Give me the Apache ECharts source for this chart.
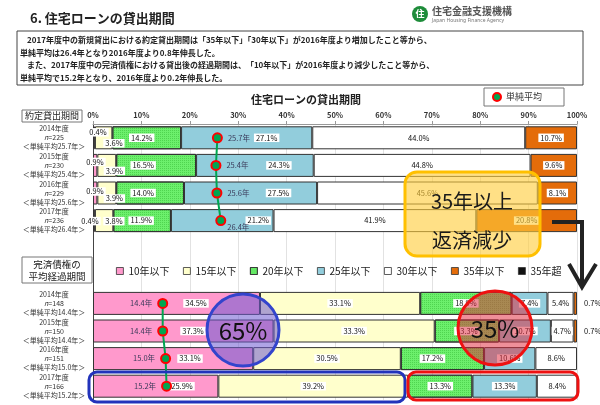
<!DOCTYPE html>
<html><head><meta charset="utf-8">
<script src="https://cdn.jsdelivr.net/npm/echarts@6/dist/echarts.min.js"></script>
<style>html,body{margin:0;padding:0;background:#fff}#c{width:600px;height:405px}</style>
</head><body><div id="c"></div>
<script>
// ---- data ----
const years = ['2014年度', '2015年度', '2016年度', '2017年度'];
const nTop = [225, 230, 229, 236];
const avgTop = [25.7, 25.4, 25.6, 26.4];
const nBottom = [148, 150, 151, 166];
const avgBottom = [14.4, 14.4, 15.0, 15.2];
const seriesNames = ['10年以下', '15年以下', '20年以下', '25年以下', '30年以下', '35年以下', '35年超'];
const xTicks = [0, 10, 20, 30, 40, 50, 60, 70, 80, 90, 100];
// 約定貸出期間 (top block)
const top10 = [0.4, 0.9, 0.9, 0.4];
const top15 = [3.6, 3.9, 3.9, 3.8];
const top20 = [14.2, 16.5, 14.0, 11.9];
const top25 = [27.1, 24.3, 27.5, 21.2];
const top30 = [44.0, 44.8, 45.6, 41.9];
const top35 = [10.7, 9.6, 8.1, 20.8];
const topOver = [0, 0, 0, 0];
// 完済債権の平均経過期間 (bottom block)
const bot10 = [34.5, 37.3, 33.1, 25.9];
const bot15 = [33.1, 33.3, 30.5, 39.2];
const bot20 = [18.9, 13.3, 17.2, 13.3];
const bot25 = [7.4, 10.7, 10.6, 13.3];
const bot30 = [5.4, 4.7, 8.6, 8.4];
const bot35 = [0.7, 0.7, 0, 0];
const botOver = [0, 0, 0, 0];

const FONT = 'Noto Sans CJK JP';
const colors = ['#FF99CC', '#FFFFCC', '#6CF06C', '#92CDDC', '#FFFFFF', '#E46C0A', '#111111'];
const topSets = [top10, top15, top20, top25, top30, top35, topOver];
const botSets = [bot10, bot15, bot20, bot25, bot30, bot35, botOver];
const GAP = 2;

const cats = [];
years.forEach((y, i) => cats.push(y + '\n{i|n}=' + nTop[i] + '\n＜単純平均' + avgTop[i].toFixed(1) + '年＞'));
for (let g = 0; g < GAP; g++) cats.push('');
years.forEach((y, i) => cats.push(y + '\n{i|n}=' + nBottom[i] + '\n＜単純平均' + avgBottom[i].toFixed(1) + '年＞'));

// label style tweaks (positions only, not data)
const pinkTopPos = [[5, 6], [2, 8], [2, 10], [-3, 12]];
const yellowTopPos = [[19, 17], [17, 17], [17, 17], [19, 12]];
const greenTopOff = [-5, -13, -7, -1];
const blueTopOff = [20, 24, 28, 36];
const pinkBotX = [103, 100, 97, 89];
const greenBotOff = [0, 0, -10, 0];

const baseLabel = {
  show: true, fontSize: 7.5, fontFamily: FONT, color: '#111', backgroundColor: '#fff',
  padding: [1, 2, 0, 2], formatter: p => Number(p.value).toFixed(1) + '%'
};

function itemLabel(s, block, i) {
  if (block === 'top') {
    if (s === 0) return { position: pinkTopPos[i], align: 'center', verticalAlign: 'middle' };
    if (s === 1) return { position: yellowTopPos[i], align: 'center', verticalAlign: 'middle' };
    if (s === 2) return { position: 'inside', offset: [greenTopOff[i], 0] };
    if (s === 3) return { position: 'inside', offset: [blueTopOff[i], 0] };
    return { position: 'inside' };
  } else {
    if (s === 0) return { position: [pinkBotX[i], '50%'], align: 'center', verticalAlign: 'middle' };
    if (s === 2) return { position: 'inside', offset: [greenBotOff[i], 0] };
    if (s === 5) return { position: 'right', distance: 5, backgroundColor: 'transparent' };
    return { position: 'inside' };
  }
}

const barSeries = seriesNames.map((name, s) => {
  const data = [];
  topSets[s].forEach((v, i) => data.push(v ? { value: v, label: itemLabel(s, 'top', i) } : '-'));
  for (let g = 0; g < GAP; g++) data.push('-');
  botSets[s].forEach((v, i) => data.push(v ? { value: v, label: itemLabel(s, 'bot', i) } : '-'));
  const it = { color: colors[s], borderColor: '#333', borderWidth: 1 };
  if (s === 2) it.decal = { symbol: 'rect', symbolSize: 1, dashArrayX: [1, 1], dashArrayY: [1, 1], color: 'rgba(30,160,30,0.35)' };
  return {
    name, type: 'bar', stack: 'total', barWidth: 23, data, itemStyle: it,
    label: baseLabel, emphasis: { disabled: true }, z: 2
  };
});

const avgLineTop = [];
avgTop.forEach((v, i) => avgLineTop.push(i === 3 ? { value: [v, i], label: { position: 'right', offset: [-4, 7] } } : [v, i]));
const avgLineBot = avgBottom.map((v, i) => [v, i + years.length + GAP]);

const markerStyle = {
  type: 'line', name: '単純平均', symbol: 'circle', symbolSize: 9, z: 5,
  itemStyle: { color: '#00A651', borderColor: '#FF0000', borderWidth: 2 },
  lineStyle: { color: '#00A651', width: 2 }, emphasis: { disabled: true }
};
const avgLabel = { show: true, fontSize: 7.5, fontFamily: FONT, color: '#3a3a5a', formatter: p => p.value[0].toFixed(1) + '年' };

const option = {
  animation: false,
  textStyle: { fontFamily: FONT },
  grid: { left: 93, right: 23, top: 124, bottom: 5, containLabel: false },
  xAxis: {
    type: 'value', position: 'top', min: 0, max: 100, interval: 10,
    axisLabel: { formatter: v => xTicks.includes(v) ? v + '%' : '', fontSize: 7.5, color: '#333', fontWeight: 'bold', margin: 5 },
    axisLine: { show: true, lineStyle: { color: '#999' } },
    axisTick: { show: true, length: 3, lineStyle: { color: '#999' } },
    splitLine: { show: true, lineStyle: { color: '#e2e2e2' } }
  },
  yAxis: {
    type: 'category', inverse: true, data: cats,
    axisLine: { show: true, lineStyle: { color: '#444', width: 1 } },
    axisTick: { show: false },
    axisLabel: { align: 'center', margin: 39, fontSize: 7, lineHeight: 9, color: '#333', fontFamily: FONT,
      rich: { i: { fontStyle: 'italic', fontSize: 7, lineHeight: 9, color: '#333' } } }
  },
  legend: [
    { data: seriesNames, left: 111, top: 261, itemWidth: 7, itemHeight: 7, itemGap: 13.5, icon: 'rect',
      selectedMode: false, textStyle: { fontSize: 10, color: '#222', fontFamily: FONT, padding: [1, 0, 0, 0] },
      itemStyle: { borderColor: '#333', borderWidth: 0.8 } },
    { data: ['単純平均'], left: 484, top: 88, icon: 'circle', itemWidth: 8, itemHeight: 8,
      padding: [4, 22, 4, 8], borderColor: '#777', borderWidth: 1, backgroundColor: '#fff', selectedMode: false,
      textStyle: { fontSize: 9, color: '#333', fontFamily: FONT } }
  ],
  series: barSeries.concat([
    Object.assign({}, markerStyle, { data: avgLineTop, label: Object.assign({ position: 'right', distance: 5 }, avgLabel) }),
    Object.assign({}, markerStyle, { data: avgLineBot, label: Object.assign({ position: 'left', distance: 5 }, avgLabel) })
  ]),
  graphic: [
    { type: 'text', left: 30, top: 12, style: { text: '6. 住宅ローンの貸出期間', font: 'bold 13px "Noto Sans CJK JP"', fill: '#222' } },
    { type: 'circle', shape: { cx: 420, cy: 14, r: 8 }, style: { fill: '#1E8C3A' } },
    { type: 'text', x: 420, y: 14, style: { text: '住', font: 'bold 9px "Noto Sans CJK JP"', fill: '#fff', align: 'center', verticalAlign: 'middle' } },
    { type: 'text', x: 432, y: 6, style: { text: '住宅金融支援機構', font: 'bold 10px "Noto Sans CJK JP"', fill: '#555' } },
    { type: 'text', x: 432, y: 18, style: { text: 'Japan Housing Finance Agency', font: '5px "Noto Sans"', fill: '#777' } },
    { type: 'rect', shape: { x: 17, y: 31, width: 566, height: 54 }, style: { fill: '#fff', stroke: '#444', lineWidth: 1 } },
    { type: 'text', x: 27, y: 40, style: { text: '2017年度中の新規貸出における約定貸出期間は「35年以下」「30年以下」が2016年度より増加したこと等から、', font: 'bold 8px "Noto Sans CJK JP"', fill: '#222', verticalAlign: 'middle' } },
    { type: 'text', x: 20, y: 52.5, style: { text: '単純平均は26.4年となり2016年度より0.8年伸長した。', font: 'bold 8px "Noto Sans CJK JP"', fill: '#222', verticalAlign: 'middle' } },
    { type: 'text', x: 27, y: 65, style: { text: 'また、2017年度中の完済債権における貸出後の経過期間は、「10年以下」が2016年度より減少したこと等から、', font: 'bold 8px "Noto Sans CJK JP"', fill: '#222', verticalAlign: 'middle' } },
    { type: 'text', x: 20, y: 77.5, style: { text: '単純平均で15.2年となり、2016年度より0.2年伸長した。', font: 'bold 8px "Noto Sans CJK JP"', fill: '#222', verticalAlign: 'middle' } },
    { type: 'text', x: 306, y: 100, style: { text: '住宅ローンの貸出期間', font: 'bold 11px "Noto Sans CJK JP"', fill: '#222', align: 'center', verticalAlign: 'middle' } },
    { type: 'rect', shape: { x: 22, y: 110, width: 60, height: 12 }, style: { fill: '#fff', stroke: '#777', lineWidth: 1 } },
    { type: 'text', x: 52, y: 116, style: { text: '約定貸出期間', font: '9px "Noto Sans CJK JP"', fill: '#222', align: 'center', verticalAlign: 'middle' } },
    { type: 'rect', shape: { x: 22, y: 257, width: 70, height: 26 }, style: { fill: '#fff', stroke: '#777', lineWidth: 1 } },
    { type: 'text', x: 57, y: 270, style: { text: '完済債権の\n平均経過期間', font: '9.5px "Noto Sans CJK JP"', lineHeight: 12, fill: '#222', align: 'center', verticalAlign: 'middle' } },
    // annotations
    { type: 'rect', z: 100, shape: { x: 405, y: 172, width: 135, height: 84, r: 12 }, style: { fill: 'rgba(255,205,60,0.62)', stroke: '#FFC000', lineWidth: 3 } },
    { type: 'text', z: 101, x: 472, y: 201, style: { text: '35年以上', font: '20px "Noto Sans CJK JP"', fill: '#1a1a1a', align: 'center', verticalAlign: 'middle' } },
    { type: 'text', z: 101, x: 472, y: 240, style: { text: '返済減少', font: '20px "Noto Sans CJK JP"', fill: '#1a1a1a', align: 'center', verticalAlign: 'middle' } },
    { type: 'polyline', z: 100, shape: { points: [[552, 222], [582, 222], [582, 285]] }, style: { stroke: '#222', lineWidth: 4, fill: null } },
    { type: 'polyline', z: 100, shape: { points: [[569, 264], [582, 287], [596, 264]] }, style: { stroke: '#222', lineWidth: 4, fill: null } },
    { type: 'circle', z: 100, shape: { cx: 243, cy: 330, r: 36 }, style: { fill: 'rgba(110,90,210,0.55)', stroke: '#3344CC', lineWidth: 3 } },
    { type: 'text', z: 101, x: 243, y: 331, style: { text: '65%', font: '24px "Noto Sans CJK JP"', fill: '#111', align: 'center', verticalAlign: 'middle' } },
    { type: 'circle', z: 100, shape: { cx: 495, cy: 328, r: 37 }, style: { fill: 'rgba(225,40,60,0.52)', stroke: '#EE1111', lineWidth: 3 } },
    { type: 'text', z: 101, x: 495, y: 329, style: { text: '35%', font: '24px "Noto Sans CJK JP"', fill: '#111', align: 'center', verticalAlign: 'middle' } },
    { type: 'rect', z: 100, shape: { x: 89, y: 372, width: 316, height: 30, r: 8 }, style: { fill: null, stroke: '#2233BB', lineWidth: 3 } },
    { type: 'rect', z: 100, shape: { x: 408, y: 372, width: 170, height: 28, r: 8 }, style: { fill: null, stroke: '#EE1111', lineWidth: 3 } }
  ]
};
const chart = echarts.init(document.getElementById('c'), null, { renderer: 'canvas' });
chart.setOption(option);
</script></body></html>
